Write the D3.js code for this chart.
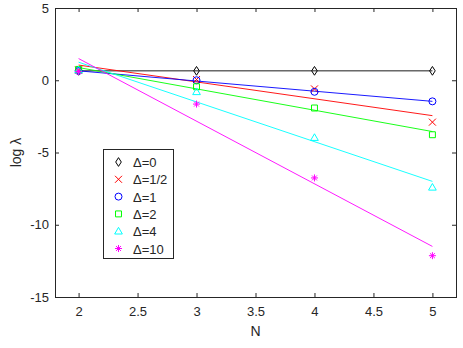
<!DOCTYPE html>
<html>
<head>
<meta charset="utf-8">
<script src="https://cdn.jsdelivr.net/npm/d3@7"></script>
<style>
  body { margin: 0; background: #fff; }
  text { font-family: "Liberation Sans", Arial, sans-serif; }
</style>
</head>
<body>
<div id="chart"></div>
<script>
// ---------- data ----------
const N = [2, 3, 4, 5];
const deltaLabels = ['Δ=0', 'Δ=1/2', 'Δ=1', 'Δ=2', 'Δ=4', 'Δ=10'];
const logLambda0 = [0.65, 0.65, 0.65, 0.65];
const logLambdaHalf = [0.7, 0.05, -0.6, -2.9];
const logLambda1 = [0.65, 0.0, -0.8, -1.46];
const logLambda2 = [0.75, -0.45, -1.92, -3.77];
const logLambda4 = [0.7, -0.8, -3.97, -7.41];
const logLambda10 = [0.6, -1.65, -6.76, -12.14];
// fitted lines, value at N=2 and N=5
const fitStart = [0.65, 1.05, 0.65, 0.88, 1.25, 1.5];
const fitEnd = [0.65, -2.45, -1.46, -3.55, -7.0, -11.5];
const xTicks = [2, 2.5, 3, 3.5, 4, 4.5, 5];
const yTicks = [5, 0, -5, -10, -15];

const colors = ['#000000', '#ff0000', '#0000ff', '#00ff00', '#00ffff', '#ff00ff'];
const markers = ['diamond', 'x', 'circle', 'square', 'triangle', 'star'];
const allSeries = [logLambda0, logLambdaHalf, logLambda1, logLambda2, logLambda4, logLambda10];

const W = 463, H = 348;
const m = { left: 55, top: 8, right: 7, bottom: 51 };
const axisColor = '#262626';

const svg = d3.select('#chart').append('svg')
    .attr('width', W)
    .attr('height', H);

const x = d3.scaleLinear().domain([1.8, 5.2]).range([m.left, W - m.right]);
const y = d3.scaleLinear().domain([-15, 5]).range([H - m.bottom, m.top]);

// axes (ticks inward, box all round)
const tickLen = 4;
svg.append('g')
    .attr('transform', `translate(0,${H - m.bottom})`)
    .call(d3.axisBottom(x).tickValues(xTicks).tickSize(-tickLen).tickPadding(10).tickFormat(d3.format('')))
    .call(g => g.select('.domain').remove());
svg.append('g')
    .attr('transform', `translate(0,${m.top})`)
    .call(d3.axisTop(x).tickValues(xTicks).tickSize(-tickLen).tickFormat(''))
    .call(g => g.select('.domain').remove());
svg.append('g')
    .attr('transform', `translate(${m.left},0)`)
    .call(d3.axisLeft(y).tickValues(yTicks).tickSize(-tickLen).tickPadding(6).tickFormat(d3.format('')))
    .call(g => g.select('.domain').remove());
svg.append('g')
    .attr('transform', `translate(${W - m.right},0)`)
    .call(d3.axisRight(y).tickValues(yTicks).tickSize(-tickLen).tickFormat(''))
    .call(g => g.select('.domain').remove());

svg.selectAll('.tick line').attr('stroke', axisColor);
svg.selectAll('.tick text')
    .attr('fill', axisColor)
    .style('font-size', '13px')
    .style('font-family', '"Liberation Sans", Arial, sans-serif')
    .text(function () { return d3.select(this).text().replace('−', '-'); });

svg.append('rect')
    .attr('x', m.left + 0.5)
    .attr('y', m.top + 0.5)
    .attr('width', W - m.left - m.right)
    .attr('height', H - m.top - m.bottom)
    .attr('fill', 'none')
    .attr('stroke', axisColor)
    .attr('stroke-width', 1);

// axis labels
svg.append('text')
    .attr('x', (m.left + W - m.right) / 2)
    .attr('y', 336)
    .attr('text-anchor', 'middle')
    .attr('fill', axisColor)
    .style('font-size', '14px')
    .text('N');
svg.append('text')
    .attr('transform', `translate(21,${(m.top + H - m.bottom) / 2}) rotate(-90)`)
    .attr('text-anchor', 'middle')
    .attr('fill', axisColor)
    .style('font-size', '14px')
    .text('log λ');

// marker paths
const markerPath = (type, s) => {
    const h = s / 2;
    switch (type) {
        case 'diamond': return `M0,${-h * 1.25}L${h * 0.8},0L0,${h * 1.25}L${-h * 0.8},0Z`;
        case 'x': return `M${-h},${-h}L${h},${h}M${-h},${h}L${h},${-h}`;
        case 'circle': return `M${h},0A${h},${h} 0 1,1 ${-h},0A${h},${h} 0 1,1 ${h},0Z`;
        case 'square': return `M${-h * 0.85},${-h * 0.85}H${h * 0.85}V${h * 0.85}H${-h * 0.85}Z`;
        case 'triangle': return `M0,${-h * 1.1}L${h * 1.1},${h * 0.8}L${-h * 1.1},${h * 0.8}Z`;
        case 'star': return `M0,${-h}V${h}M${-h},0H${h}M${-h * 0.7},${-h * 0.7}L${h * 0.7},${h * 0.7}M${-h * 0.7},${h * 0.7}L${h * 0.7},${-h * 0.7}`;
    }
};

const plot = svg.append('g');

// fit lines
plot.selectAll('line.fit')
    .data(deltaLabels)
    .enter()
    .append('line')
    .attr('class', 'fit')
    .attr('x1', x(N[0]))
    .attr('x2', x(N[N.length - 1]))
    .attr('y1', (d, i) => y(fitStart[i]))
    .attr('y2', (d, i) => y(fitEnd[i]))
    .attr('stroke', (d, i) => colors[i])
    .attr('stroke-width', 0.9);

// data markers
allSeries.forEach((vals, i) => {
    plot.selectAll(null)
        .data(vals)
        .enter()
        .append('path')
        .attr('transform', (d, j) => `translate(${x(N[j])},${y(d)})`)
        .attr('d', markerPath(markers[i], 7))
        .attr('fill', 'none')
        .attr('stroke', colors[i])
        .attr('stroke-width', 1);
});

// legend
const lg = svg.append('g').attr('transform', 'translate(103,149)');
lg.append('rect')
    .attr('x', 0.5)
    .attr('y', 0.5)
    .attr('width', 70)
    .attr('height', 109)
    .attr('fill', '#fff')
    .attr('stroke', axisColor);
const rows = lg.selectAll('g.row')
    .data(deltaLabels)
    .enter()
    .append('g')
    .attr('transform', (d, i) => `translate(0,${13 + i * 17.3})`);
rows.append('path')
    .attr('transform', 'translate(15.5,0)')
    .attr('d', (d, i) => markerPath(markers[i], 7))
    .attr('fill', 'none')
    .attr('stroke', (d, i) => colors[i]);
rows.append('text')
    .attr('x', 30)
    .attr('y', 5)
    .attr('fill', axisColor)
    .style('font-size', '13px')
    .text(d => d);
</script>
</body>
</html>
